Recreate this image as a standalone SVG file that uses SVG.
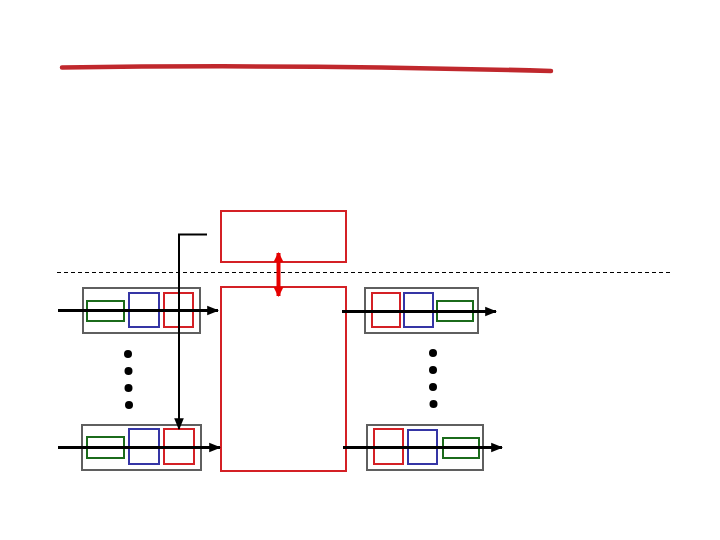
<svg xmlns="http://www.w3.org/2000/svg" width="720" height="540" viewBox="0 0 720 540">
<defs>
<style>
.gray{fill:none;stroke:#5f5f5f;stroke-width:2}
.g{fill:none;stroke:#1b6b1b;stroke-width:2}
.b{fill:none;stroke:#3535a5;stroke-width:2}
.r{fill:none;stroke:#d42025;stroke-width:2}
.big{fill:none;stroke:#d42025;stroke-width:2}
.ln{fill:none;stroke:#000;stroke-width:3}
.dot{fill:#000}
</style>
<marker id="ah" viewBox="0 0 10 10" refX="9" refY="5" markerWidth="4" markerHeight="4" orient="auto" markerUnits="strokeWidth">
<path d="M0,1 L10,5 L0,9 z" fill="#000"/>
</marker>
<marker id="ahs" viewBox="0 0 10 10" refX="9" refY="5" markerWidth="6" markerHeight="6" orient="auto" markerUnits="strokeWidth">
<path d="M0,1 L10,5 L0,9 z" fill="#000"/>
</marker>
<marker id="rh" viewBox="0 0 10 10" refX="9" refY="5" markerWidth="2.6" markerHeight="2.6" orient="auto-start-reverse" markerUnits="strokeWidth">
<path d="M0,0 L10,5 L0,10 z" fill="#e60000"/>
</marker>
</defs>
<path d="M62,67.5 Q300,64 551,71" fill="none" stroke="#c0282d" stroke-width="4.5" stroke-linecap="round"/>
<line x1="57" y1="272.5" x2="671" y2="272.5" stroke="#000" stroke-width="1" stroke-dasharray="4,3"/>
<g id="ctrl"><rect x="221" y="211" width="125" height="51" class="big"/></g>
<g id="fabric"><rect x="221" y="287" width="125" height="184" class="big"/></g>
<g id="in1">
<rect x="83" y="288" width="117" height="45" class="gray"/>
<rect x="87" y="301" width="37" height="20" class="g"/>
<rect x="129" y="293" width="30" height="34" class="b"/>
<rect x="164" y="293" width="29" height="34" class="r"/>
</g>
<g id="inN">
<rect x="82" y="425" width="119" height="45" class="gray"/>
<rect x="87" y="437" width="37" height="21" class="g"/>
<rect x="129" y="429" width="30" height="35" class="b"/>
<rect x="164" y="429" width="30" height="35" class="r"/>
</g>
<g id="out1">
<rect x="365" y="288" width="113" height="45" class="gray"/>
<rect x="372" y="293" width="28" height="34" class="r"/>
<rect x="404" y="293" width="29" height="34" class="b"/>
<rect x="437" y="301" width="36" height="20" class="g"/>
</g>
<g id="outN">
<rect x="367" y="425" width="116" height="45" class="gray"/>
<rect x="374" y="429" width="29" height="35" class="r"/>
<rect x="408" y="430" width="29" height="34" class="b"/>
<rect x="443" y="438" width="36" height="20" class="g"/>
</g>
<g id="dotsL">
<circle cx="128" cy="354" r="4" class="dot"/>
<circle cx="128.5" cy="371" r="4" class="dot"/>
<circle cx="128.5" cy="388" r="4" class="dot"/>
<circle cx="129" cy="405" r="4" class="dot"/>
</g>
<g id="dotsR">
<circle cx="433" cy="353" r="4" class="dot"/>
<circle cx="433" cy="370" r="4" class="dot"/>
<circle cx="433" cy="387" r="4" class="dot"/>
<circle cx="433.5" cy="404" r="4" class="dot"/>
</g>
<g id="connectors">
<line x1="58" y1="310.5" x2="218" y2="310.5" class="ln" marker-end="url(#ah)"/>
<line x1="58" y1="447.5" x2="220" y2="447.5" class="ln" marker-end="url(#ah)"/>
<line x1="342" y1="311.5" x2="496" y2="311.5" class="ln" marker-end="url(#ah)"/>
<line x1="343" y1="447.5" x2="502" y2="447.5" class="ln" marker-end="url(#ah)"/>
<path d="M207,234.5 L179,234.5 L179,429" fill="none" stroke="#000" stroke-width="2" marker-end="url(#ahs)"/>
<line x1="278.5" y1="253" x2="278.5" y2="296" stroke="#e60000" stroke-width="4" marker-start="url(#rh)" marker-end="url(#rh)"/>
</g>
</svg>
